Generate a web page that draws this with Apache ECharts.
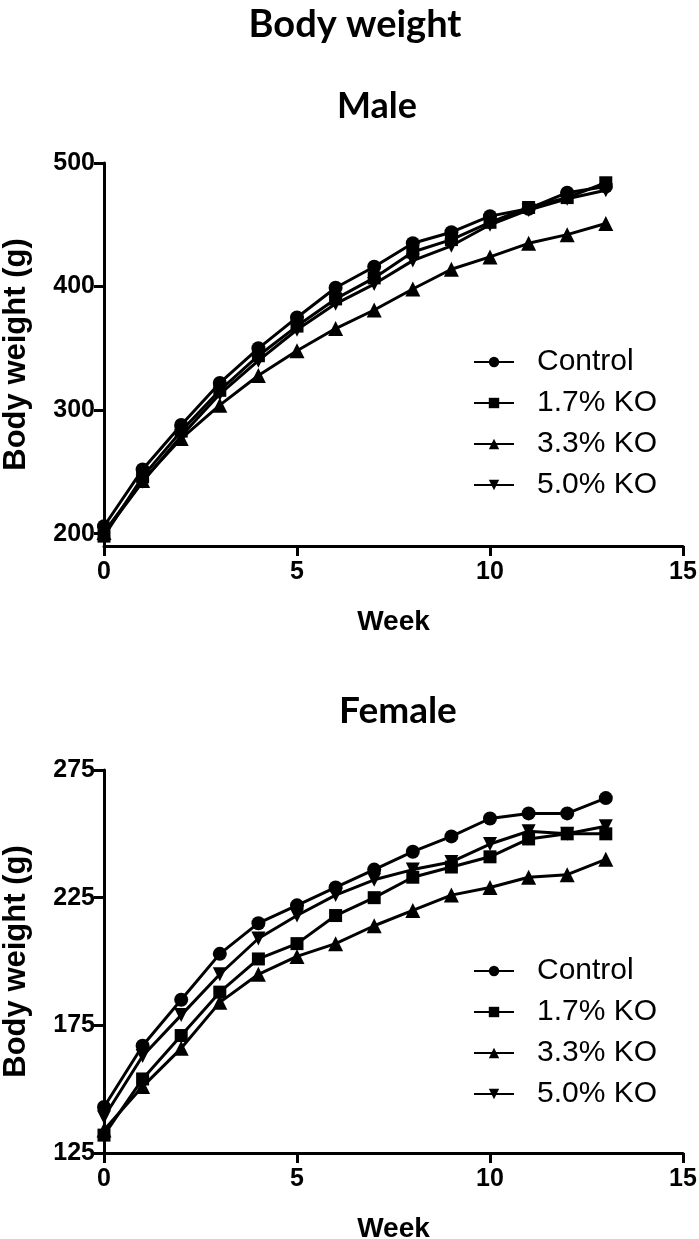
<!DOCTYPE html>
<html>
<head>
<meta charset="utf-8">
<script src="https://cdn.jsdelivr.net/npm/echarts@6/dist/echarts.min.js"></script>
<style>
html,body{margin:0;padding:0;background:#fff;}
#chart{width:699px;height:1239px;}
</style>
</head>
<body>
<div id="chart"></div>
<script>
const weeks = [0,1,2,3,4,5,6,7,8,9,10,11,12,13];
const seriesNames = ['Control','1.7% KO','3.3% KO','5.0% KO'];
const maleControl = [206,252,288,322,350,375,399,416,435,444,457,463,476,481];
const male17 = [198,246,283,316,344,368,390,407,428,438,452,464,472,484];
const male33 = [201,243,277,304,328,348,366,381,398,414,424,435,442,451];
const male50 = [200,242,279,313,340,365,386,402,421,433,450,462,471,478];
const femaleControl = [143,167,185,203,215,222,229,236,243,249,256,258,258,264];
const female17 = [132,154,171,188,201,207,218,225,233,237,241,248,250,250];
const female33 = [134,151,166,184,195,202,207,214,220,226,229,233,234,240];
const female50 = [139,163,179,195,209,218,226,232,236,239,246,251,250,253];
const xTicks = [0,5,10,15];
const maleYTicks = [200,300,400,500];
const femaleYTicks = [125,175,225,275];

const symbols = ['circle','rect','triangle','path://M0,0 L10,0 L5,9 Z'];
const symbolSizes = [14,13,15,14];
const maleData = [maleControl, male17, male33, male50];
const femaleData = [femaleControl, female17, female33, female50];

const tickFont = {color:'#000', fontFamily:'Liberation Sans', fontWeight:'bold', fontSize:25};
const nameFont = {color:'#000', fontFamily:'Liberation Sans', fontWeight:'bold', fontSize:28};
const yNameFont = {color:'#000', fontFamily:'Liberation Sans', fontWeight:'bold', fontSize:31};
const axisLine = {show:true, onZero:false, lineStyle:{color:'#000', width:3}};
const axisTick = {show:true, length:10, lineStyle:{color:'#000', width:3}};

function xAxis(gi){
  return {type:'value', gridIndex:gi, min:0, max:15, interval:5,
    axisLine:axisLine, axisTick:axisTick, splitLine:{show:false},
    axisLabel:Object.assign({margin:14}, tickFont),
    name:'Week', nameLocation:'middle', nameGap:62, nameTextStyle:nameFont};
}
function yAxis(gi, min, max, ticks){
  return {type:'value', gridIndex:gi, min:min, max:max,
    axisLine:axisLine,
    axisTick:Object.assign({customValues:ticks}, axisTick),
    splitLine:{show:false},
    axisLabel:Object.assign({margin:9, customValues:ticks}, tickFont),
    name:'Body weight (g)', nameLocation:'middle', nameGap:72, nameTextStyle:yNameFont};
}

const series = [];
[[maleData,0],[femaleData,1]].forEach(([set, gi]) => {
  [2,3,1,0].forEach(i => {
    series.push({
      name: seriesNames[i], type:'line', xAxisIndex:gi, yAxisIndex:gi,
      data: weeks.map((w,k) => [w, set[i][k]]),
      symbol: symbols[i], symbolSize: symbolSizes[i],
      lineStyle:{color:'#000', width:3}, itemStyle:{color:'#000'},
      animation:false, z: 3
    });
  });
});

function legend(top){
  return {data:seriesNames, orient:'vertical', left:468, top:top, itemWidth:40, itemHeight:13, itemGap:11,
    textStyle:{color:'#000', fontFamily:'Liberation Sans', fontSize:30, padding:[0,0,0,18]},
    selectedMode:false};
}

const option = {
  backgroundColor:'#fff',
  animation:false,
  title:[
    {text:'Body weight', left:350, textAlign:'center', top:1, textStyle:{fontFamily:'Lato', fontWeight:'bold', fontSize:38, color:'#000'}},
    {text:'Male', left:372, textAlign:'center', top:83, textStyle:{fontFamily:'Lato', fontWeight:'bold', fontSize:36, color:'#000'}},
    {text:'Female', left:393, textAlign:'center', top:688, textStyle:{fontFamily:'Lato', fontWeight:'bold', fontSize:37, color:'#000'}}
  ],
  legend:[legend(342), legend(951)],
  grid:[
    {left:104, top:163, width:579, height:383, containLabel:false, outerBoundsMode:'none'},
    {left:104, top:770, width:579, height:383, containLabel:false, outerBoundsMode:'none'}
  ],
  xAxis:[xAxis(0), xAxis(1)],
  yAxis:[yAxis(0,190,500,maleYTicks), yAxis(1,125,275,femaleYTicks)],
  series:series
};
const chart = echarts.init(document.getElementById('chart'), null, {renderer:'canvas'});
chart.setOption(option);
</script>
</body>
</html>
